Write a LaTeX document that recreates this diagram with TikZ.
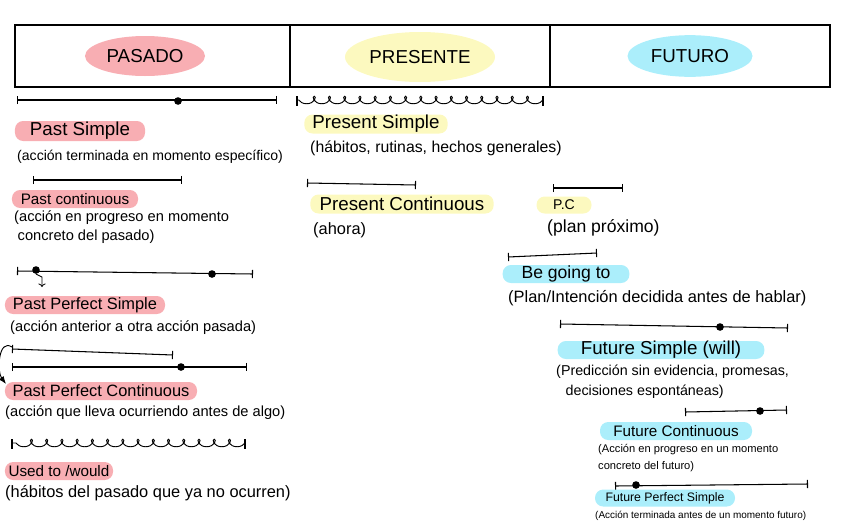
\documentclass[tikz,border=0pt]{standalone}
\usepackage{fontspec}
\setmainfont{Liberation Sans}
\usetikzlibrary{arrows.meta,positioning,shapes.geometric,decorations.pathmorphing}

\definecolor{pasado}{HTML}{F8AEB3}
\definecolor{presente}{HTML}{FCF9BF}
\definecolor{futuro}{HTML}{ABEEFB}

\newcommand{\fsz}[1]{\fontsize{#1}{16}\selectfont}

\tikzset{
  blob/.style={ellipse,inner sep=0pt,font=\fontsize{16}{18}\selectfont},
  hl/.style={rounded corners=7pt,inner xsep=1pt,inner ysep=0pt,align=center},
  note/.style={anchor=west,inner sep=0pt,align=left,font=\fsz{12.5}},
  tline/.style={line width=0.9pt,{Bar[width=7pt]}-{Bar[width=7pt]}},
  loopline/.style={line width=0.8pt,decorate,decoration={coil,aspect=1.1,segment length=13pt,amplitude=3.2pt}},
  tdot/.style={fill,circle,inner sep=0pt,minimum size=6.5pt},
}

\begin{document}
\begin{tikzpicture}[x=0.03cm,y=-0.03cm,>=Latex]
\useasboundingbox (0,0) rectangle (848,530);

% cabecera
\draw[line width=1.2pt] (15,25) rectangle (830,87);
\draw[line width=1.2pt] (290,25) -- (290,87);
\draw[line width=1.2pt] (550,25) -- (550,87);
\node[blob,fill=pasado,minimum width=3.6cm,minimum height=1.2cm] (pasado) at (145,56) {PASADO};
\node[blob,fill=presente,minimum width=4.5cm,minimum height=1.5cm] (presente) at (420,57) {PRESENTE};
\node[blob,fill=futuro,minimum width=3.75cm,minimum height=1.25cm] (futuro) at (690,56) {FUTURO};

% pasado
\draw[tline] (17,100) -- (277,100);
\node[tdot] at (178,101) {};
\node[hl,fill=pasado,minimum width=3.9cm,minimum height=0.6cm,font=\fsz{16}] (ps) at (80,131) {Past Simple};
\node[note,font=\fsz{12}] (psn) at (17,157) {(acción terminada en momento específico)};

\draw[tline] (33,180) -- (182,180);
\node[hl,fill=pasado,minimum width=3.78cm,minimum height=0.54cm,font=\fsz{13}] (pc) at (75,199) {Past continuous};
\node[note] (pcn) at (14,227) {(acción en progreso en momento\\\hspace{3pt}concreto del pasado)};

\draw[tline] (17,271) -- (253,274);
\node[tdot] (ppsA) at (36,270) {};
\node[tdot] (ppsB) at (212,274) {};
\coordinate (ppsC) at (42,287);
\draw[-{To[length=3pt]},line width=0.7pt] (ppsA.south) -- ++(6,3) -- (ppsC);
\node[hl,fill=pasado,minimum width=4.8cm,minimum height=0.54cm,font=\fsz{14}] (pps) at (85,305) {Past Perfect Simple};
\node[note] (ppsn) at (10,328) {(acción anterior a otra acción pasada)};

\draw[tline] (12,349) -- (173,355);
\draw[tline] (12,367) -- (247,367);
\node[tdot] at (181,367) {};
\coordinate (ppcA) at (12,347);
\coordinate (ppcB) at (6,384);
\draw[->,line width=0.8pt] (ppcA) .. controls (-2,338) and (-3,372) .. (ppcB);
\node[hl,fill=pasado,minimum width=5.76cm,minimum height=0.54cm,font=\fsz{14}] (ppc) at (101,391) {Past Perfect Continuous};
\node[note] (ppcn) at (5,413) {(acción que lleva ocurriendo antes de algo)};

\draw[loopline] (245,443) -- (12,443);
\draw[line width=0.9pt] (12,439) -- (12,449) (245,439) -- (245,449);
\node[hl,fill=pasado,minimum width=3.24cm,minimum height=0.54cm,font=\fsz{13}] (ut) at (59,471) {Used to /would};
\node[note,font=\fsz{14}] (utn) at (5,493) {(hábitos del pasado que ya no ocurren)};

% presente
\draw[loopline] (543,100) -- (297,100);
\draw[line width=0.9pt] (297,96) -- (297,106) (543,96) -- (543,106);
\node[hl,fill=presente,minimum width=4.3cm,minimum height=0.57cm,font=\fsz{16}] (prs) at (376,124) {Present Simple};
\node[note,font=\fsz{13.5}] (prsn) at (310,148) {(hábitos, rutinas, hechos generales)};

\draw[tline] (307,183) -- (416,185);
\node[hl,fill=presente,minimum width=5.5cm,minimum height=0.57cm,font=\fsz{16}] (prc) at (402,204) {Present Continuous};
\node[note,font=\fsz{14}] (prcn) at (313,230) {(ahora)};

\draw[tline] (553,188) -- (623,188);
\node[hl,fill=presente,minimum width=1.65cm,minimum height=0.51cm,font=\fsz{12}] (pcp) at (564,205) {P.C};
\node[note,font=\fsz{15}] (pcpn) at (547,228) {(plan próximo)};

% futuro
\draw[tline] (508,257) -- (597,253);
\node[hl,fill=futuro,minimum width=3.8cm,minimum height=0.54cm,font=\fsz{15}] (bgt) at (566,274) {Be going to};
\node[note,font=\fsz{14}] (bgtn) at (508,298) {(Plan/Intención decidida antes de hablar)};

\draw[tline] (560,324) -- (788,328);
\node[tdot] at (720,327) {};
\node[hl,fill=futuro,minimum width=6.2cm,minimum height=0.54cm,font=\fsz{16}] (fs) at (661,350) {Future Simple (will)};
\node[note,font=\fontsize{12.2}{17}\selectfont] (fsn) at (556,382) {(Predicción sin evidencia, promesas,\\\hspace{8pt}decisiones espontáneas)};

\draw[tline] (685,412) -- (787,410);
\node[tdot] at (760,411) {};
\node[hl,fill=futuro,minimum width=4.56cm,minimum height=0.54cm,font=\fsz{13}] (fc) at (676,431) {Future Continuous};
\node[note,font=\fontsize{9.5}{14}\selectfont] (fcn) at (598,458) {(Acción en progreso en un momento\\concreto del futuro)};

\draw[tline] (615,486) -- (808,484);
\node[tdot] at (636,485) {};
\node[hl,fill=futuro,minimum width=4.2cm,minimum height=0.51cm,font=\fsz{10.5}] (fps) at (665,498) {Future Perfect Simple};
\node[note,font=\fontsize{8.5}{9}\selectfont] (fpsn) at (595,516) {(Acción terminada antes de un momento futuro)};
\end{tikzpicture}
\end{document}
